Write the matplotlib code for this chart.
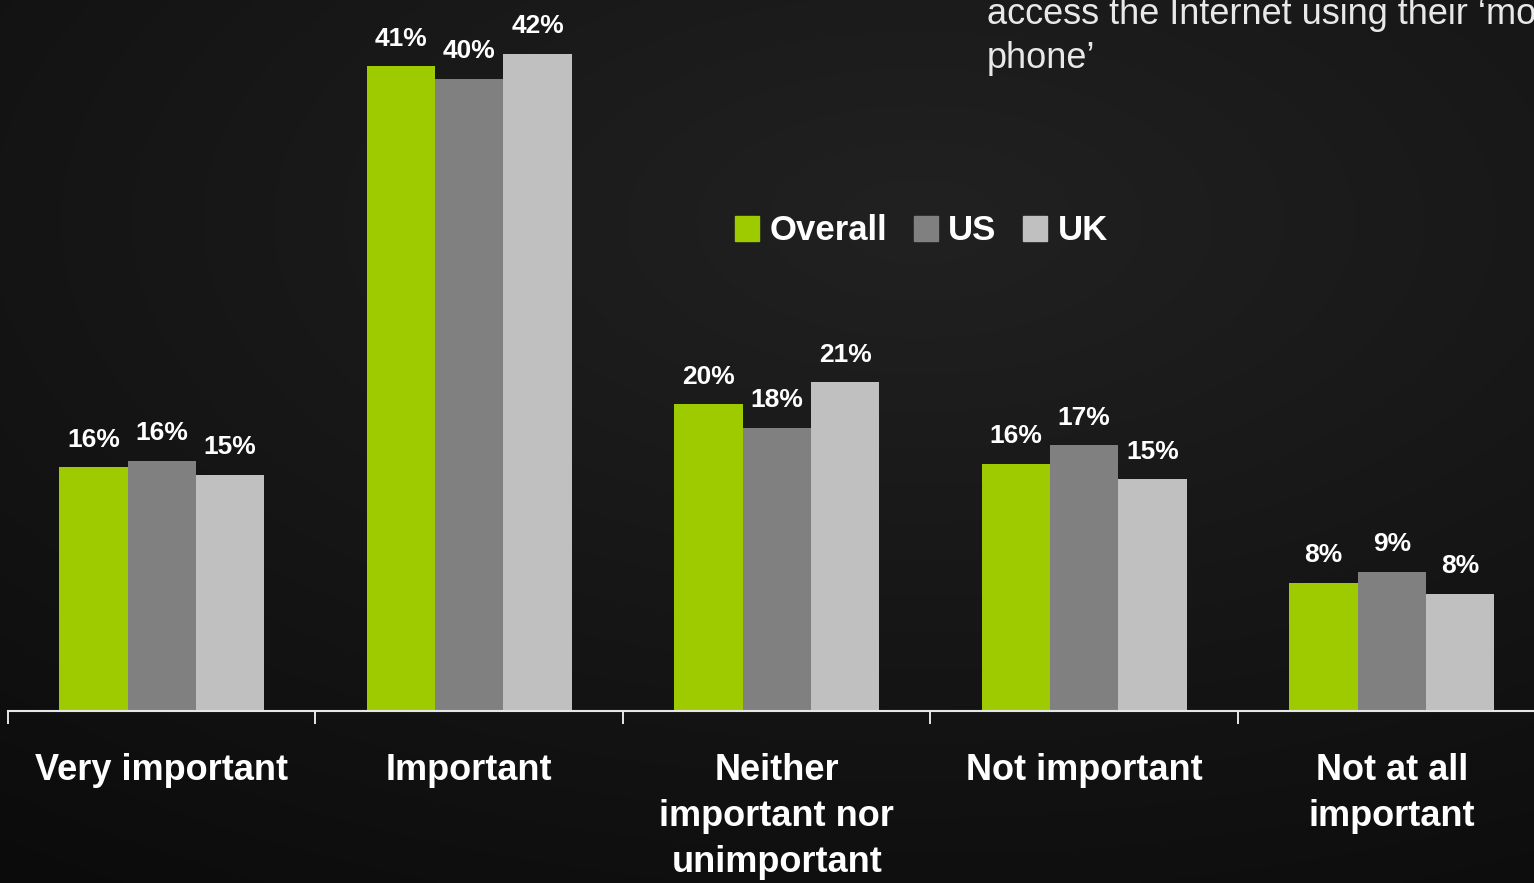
import numpy as np
import matplotlib
matplotlib.use("Agg")
import matplotlib.pyplot as plt
from matplotlib.patches import Patch

plt.rcParams['font.family'] = ['Liberation Sans Narrow', 'Liberation Sans', 'DejaVu Sans']

categories = ["Very important", "Important", "Neither\nimportant nor\nunimportant",
              "Not important", "Not at all\nimportant"]
series_names = ["Overall", "US", "UK"]
overall = [15.6, 41.2, 19.6, 15.8, 8.2]
us = [16.0, 40.4, 18.1, 17.0, 8.9]
uk = [15.1, 42.0, 21.0, 14.8, 7.5]
colors = ["#9dcb00", "#808080", "#c0c0c0"]

W, H = 1534, 883
fig = plt.figure(figsize=(W / 100, H / 100), dpi=100)

# dark radial backdrop
bg = fig.add_axes([0, 0, 1, 1], zorder=-10)
yy, xx = np.mgrid[0:1:300j, 0:1:520j]
d = np.sqrt(((xx - 0.6) * 1.0) ** 2 + ((yy - 0.25) * 1.1) ** 2)
shade = np.clip(0.13 - 0.085 * d, 0.035, 0.13)
bg.imshow(np.dstack([shade] * 3), extent=[0, 1, 0, 1], aspect='auto', origin='upper')
bg.axis('off')

base = 711
ax = fig.add_axes([8 / W, (H - base) / H, (W - 8) / W, base / H])
ax.patch.set_alpha(0)

spacing_px = 307.5
x = np.arange(len(categories))
bw = 0.222
for k, (vals, col) in enumerate(zip([overall, us, uk], colors)):
    pos = x + (k - 1) * bw
    ax.bar(pos, vals, width=bw, color=col, label=series_names[k], zorder=2)
    for px, v in zip(pos, vals):
        ax.annotate(f"{v:.0f}%", (px, v), xytext=(0, 11), textcoords='offset points',
                    ha='center', va='bottom', color='white', fontsize=19,
                    fontweight='bold')

for s in ['top', 'right', 'left']:
    ax.spines[s].set_visible(False)
ax.spines['bottom'].set_color('#e6e6e6')
ax.spines['bottom'].set_linewidth(1.5)
ax.set_yticks([])

ax.set_xticks(np.arange(-0.5, len(categories), 1.0))
ax.set_xticklabels([])
ax.tick_params(axis='x', which='major', direction='out', length=9, width=1.4,
               color='#e6e6e6')
ax.set_xticks(x, minor=True)
ax.set_xticklabels(categories, minor=True, color='white', fontsize=26,
                   fontweight='bold', linespacing=1.42)
ax.tick_params(axis='x', which='minor', length=0, pad=30)

ax.set_xlim(-0.5, -0.5 + (W - 8) / spacing_px)
ax.set_ylim(0, base / 15.65)

handles = [Patch(color=c, label=n) for c, n in zip(colors, series_names)]
leg = fig.legend(handles=handles, loc='center left',
                 bbox_to_anchor=(735 / W, (H - 231) / H), ncol=3, frameon=False,
                 fontsize=25, handlelength=0.7, handleheight=0.7,
                 handletextpad=0.3, columnspacing=0.75, borderpad=0,
                 borderaxespad=0)
for t in leg.get_texts():
    t.set_color('white')
    t.set_fontweight('bold')

fig.text(987 / W, (H - 24) / H, "access the Internet using their \u2018mobile",
         color='#e8e8e8', fontsize=26, ha='left', va='baseline')
fig.text(987 / W, (H - 68) / H, "phone\u2019",
         color='#e8e8e8', fontsize=26, ha='left', va='baseline')

fig.savefig("out.png", dpi=100)
